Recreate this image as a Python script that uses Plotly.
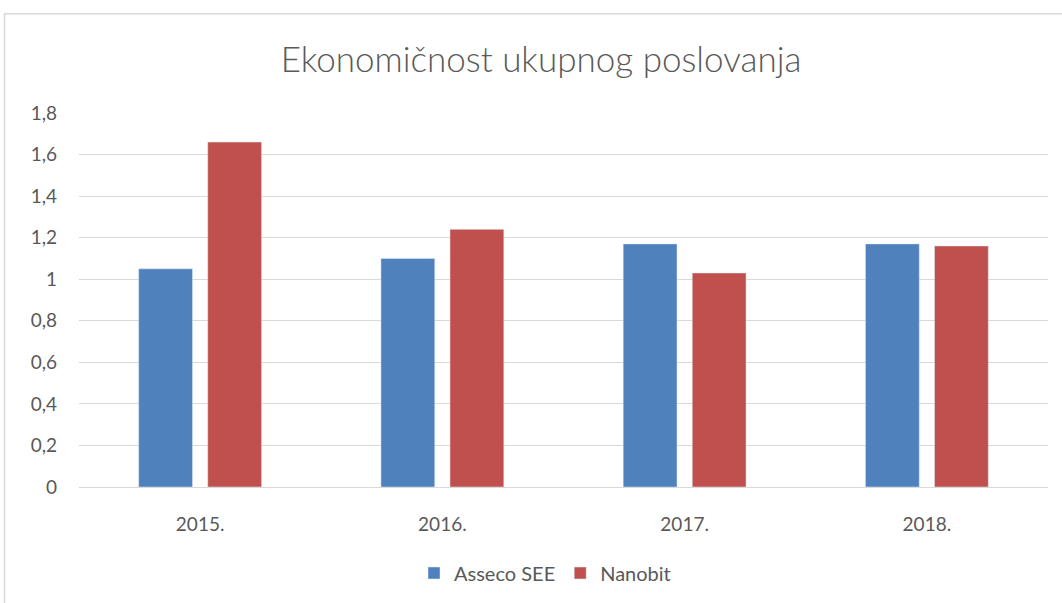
import plotly.graph_objects as go

categories = ["2015.", "2016.", "2017.", "2018."]
asseco = [1.05, 1.10, 1.17, 1.17]
nanobit = [1.66, 1.24, 1.03, 1.16]
tick_vals = [0, 0.2, 0.4, 0.6, 0.8, 1.0, 1.2, 1.4, 1.6, 1.8]
tick_text = ["0", "0,2", "0,4", "0,6", "0,8", "1", "1,2", "1,4", "1,6", "1,8"]

W, H = 1062, 603
L, R, T, B = 79, 14, 113, 115
pw, ph = W - L - R, H - T - B

def px_x(p):
    return (p - L) / pw

def px_y(p):
    return (H - B - p) / ph

font = "Lato, Calibri, 'Noto Sans', sans-serif"
txt = "#595959"

fig = go.Figure()
fig.add_trace(go.Bar(x=categories, y=asseco, name="Asseco SEE", marker_color="#4F81BD"))
fig.add_trace(go.Bar(x=categories, y=nanobit, name="Nanobit", marker_color="#C0504D"))

fig.update_layout(
    width=W, height=H,
    margin=dict(l=L, r=R, t=T, b=B),
    paper_bgcolor="white", plot_bgcolor="white",
    barmode="group", bargap=0.43, bargroupgap=0.22,
    font=dict(family=font, color=txt, size=19),
    title=dict(text="Ekonomičnost ukupnog poslovanja", x=541 / W, xanchor="center",
               y=1 - 60 / H, yanchor="middle",
               font=dict(size=35, color=txt, family=font, weight=300)),
    showlegend=True,
    legend=dict(orientation="h", x=px_x(545), xanchor="center", y=px_y(573), yanchor="middle",
                font=dict(size=20, color=txt), traceorder="normal"),
    xaxis=dict(showgrid=False, showline=True, linecolor="#d9d9d9", linewidth=1,
               ticks="", ticklabelstandoff=20, tickfont=dict(size=19, color=txt)),
    yaxis=dict(range=[0, 1.8], tickvals=tick_vals, ticktext=tick_text,
               showgrid=True, gridcolor="#d9d9d9", gridwidth=1,
               zeroline=False, showline=False, ticks="", ticklabelstandoff=21,
               tickfont=dict(size=19, color=txt)),
    shapes=[dict(type="rect", xref="paper", yref="paper",
                 x0=px_x(4.5), y0=-0.6, x1=1.2, y1=px_y(13.5),
                 line=dict(color="#d9d9d9", width=1.5), fillcolor="rgba(0,0,0,0)", layer="below")],
)

fig.write_html("out.html", config={"displayModeBar": False},
               post_script="document.body.style.margin='0';")
